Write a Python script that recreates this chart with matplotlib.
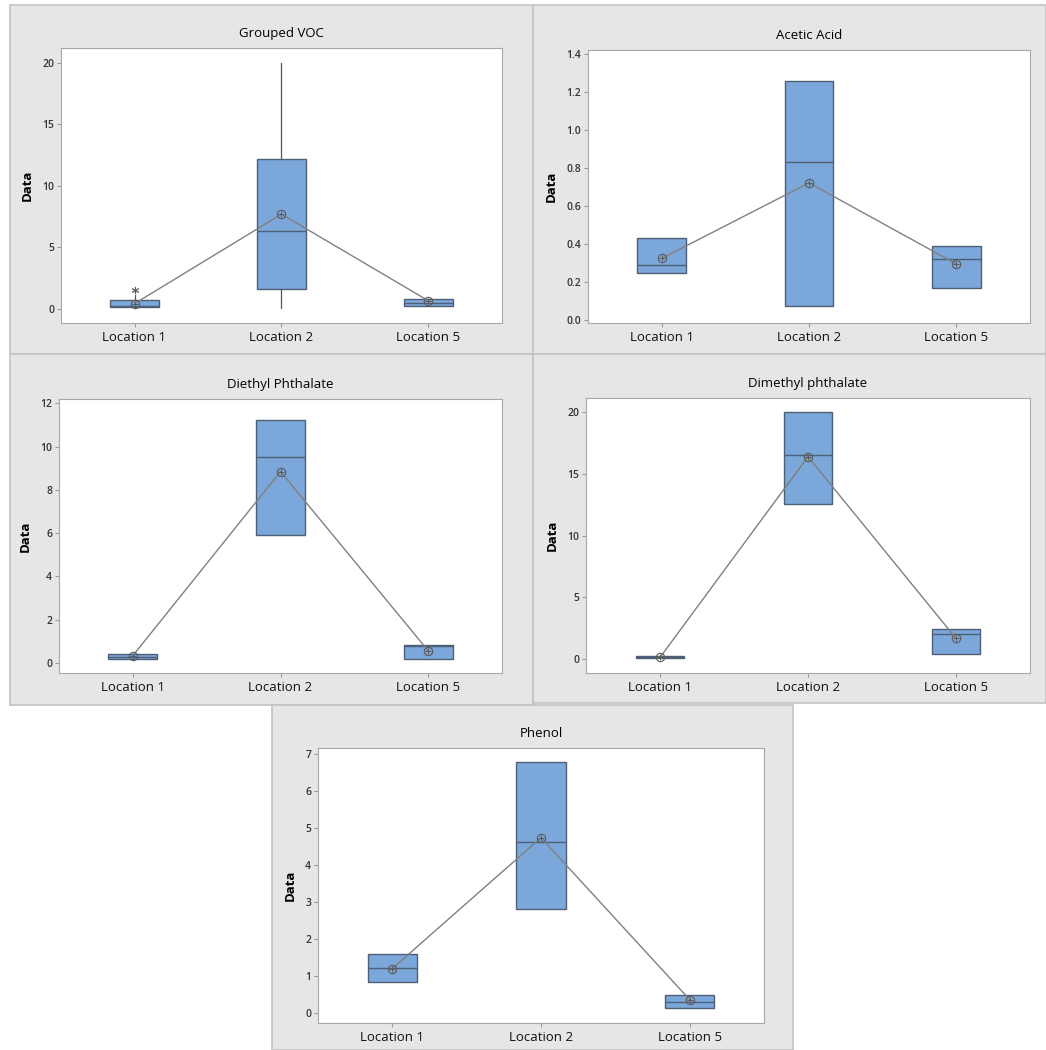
import numpy as np
import matplotlib.pyplot as plt
from matplotlib.patches import Rectangle

plt.rcParams['font.family'] = ['Open Sans', 'DejaVu Sans']

locations = ['Location 1', 'Location 2', 'Location 5']

# per-chemical box statistics: q1, median, q3, whisker low, whisker high, mean
titles = ['Grouped VOC', 'Acetic Acid', 'Diethyl Phthalate', 'Dimethyl phthalate', 'Phenol']

voc_q1 = [0.16, 1.65, 0.22]
voc_med = [0.28, 6.3, 0.5]
voc_q3 = [0.75, 12.2, 0.85]
voc_lo = [0.1, 0.05, 0.22]
voc_hi = [1.17, 20.0, 0.85]
voc_mean = [0.43, 7.7, 0.66]
voc_fliers = [[1.57], [], []]

acetic_q1 = [0.248, 0.072, 0.166]
acetic_med = [0.29, 0.83, 0.318]
acetic_q3 = [0.429, 1.257, 0.389]
acetic_mean = [0.322, 0.72, 0.293]

diethyl_q1 = [0.2, 5.9, 0.2]
diethyl_med = [0.3, 9.5, 0.77]
diethyl_q3 = [0.43, 11.25, 0.84]
diethyl_mean = [0.34, 8.85, 0.57]

dimethyl_q1 = [0.05, 12.55, 0.38]
dimethyl_med = [0.12, 16.55, 2.0]
dimethyl_q3 = [0.2, 20.0, 2.4]
dimethyl_mean = [0.1, 16.4, 1.65]

phenol_q1 = [0.83, 2.8, 0.135]
phenol_med = [1.21, 4.62, 0.3]
phenol_q3 = [1.6, 6.78, 0.476]
phenol_mean = [1.2, 4.73, 0.36]

W, H = 1046, 1050
fig = plt.figure(figsize=(W / 100, H / 100), dpi=100)


def px_rect(l, t, r, b):
    return [l / W, 1 - b / H, (r - l) / W, (b - t) / H]


# grey panel backgrounds
for l, t, r, b in [(10, 5, 533, 354), (533, 5, 1046, 354), (10, 354, 533, 705),
                   (533, 354, 1046, 703), (272, 705, 793, 1050)]:
    fig.add_artist(Rectangle((l / W, 1 - b / H), (r - l) / W, (b - t) / H,
                             transform=fig.transFigure, facecolor='#e6e6e6',
                             edgecolor='#c4c4c4', linewidth=1.2, zorder=0))

panels = [
    (voc_q1, voc_med, voc_q3, voc_lo, voc_hi, voc_mean, voc_fliers,
     (61, 48, 502, 323), (-1.14, 21.2), [0, 5, 10, 15, 20], '%d'),
    (acetic_q1, acetic_med, acetic_q3, acetic_q1, acetic_q3, acetic_mean, None,
     (588, 50, 1030, 323), (-0.018, 1.42), np.arange(0, 1.41, 0.2), '%.1f'),
    (diethyl_q1, diethyl_med, diethyl_q3, diethyl_q1, diethyl_q3, diethyl_mean, None,
     (59, 399, 502, 673), (-0.46, 12.2), [0, 2, 4, 6, 8, 10, 12], '%d'),
    (dimethyl_q1, dimethyl_med, dimethyl_q3, dimethyl_q1, dimethyl_q3, dimethyl_mean, None,
     (586, 398, 1030, 673), (-1.16, 21.16), [0, 5, 10, 15, 20], '%d'),
    (phenol_q1, phenol_med, phenol_q3, phenol_q1, phenol_q3, phenol_mean, None,
     (318, 748, 764, 1023), (-0.27, 7.15), [0, 1, 2, 3, 4, 5, 6, 7], '%d'),
]

box_color = '#7ba7da'
edge_color = '#4f5f75'
pos = np.arange(1, len(locations) + 1)

for title, (q1, med, q3, lo, hi, mean, fliers, rect, ylim, yticks, fmt) in zip(titles, panels):
    ax = fig.add_axes(px_rect(*rect))
    stats = []
    for i in range(len(locations)):
        stats.append({'q1': q1[i], 'med': med[i], 'q3': q3[i],
                      'whislo': lo[i], 'whishi': hi[i],
                      'fliers': fliers[i] if fliers else []})
    ax.bxp(stats, positions=pos, widths=0.33, patch_artist=True, showcaps=False,
           boxprops=dict(facecolor=box_color, edgecolor=edge_color, linewidth=1.0),
           medianprops=dict(color=edge_color, linewidth=1.0),
           whiskerprops=dict(color='#555555', linewidth=0.9),
           flierprops=dict(marker='$*$', markersize=5, markerfacecolor='#555555',
                           markeredgecolor='#555555', markeredgewidth=0.3,
                           linestyle='none'))
    ax.plot(pos, mean, color='#808080', linewidth=1.0, zorder=3)
    ax.plot(pos, mean, linestyle='none', marker='o', markersize=6, fillstyle='none',
            markeredgecolor='#5a5a5a', markeredgewidth=0.8, zorder=4)
    ax.plot(pos, mean, linestyle='none', marker='+', markersize=5,
            markeredgecolor='#5a5a5a', markeredgewidth=0.7, zorder=4)

    ax.set_xlim(0.5, 3.5)
    ax.set_ylim(*ylim)
    ax.set_yticks(yticks)
    ax.set_yticklabels([fmt % v for v in yticks], fontweight='semibold')
    ax.set_xticks(pos)
    ax.set_xticklabels(locations)
    ax.tick_params(axis='y', labelsize=7.5, length=3, color='#999999', pad=2,
                   labelcolor='#333333')
    ax.tick_params(axis='x', labelsize=9.5, length=3, color='#999999', pad=3,
                   labelcolor='#111111')
    for s in ax.spines.values():
        s.set_color('#a8a8a8')
    ax.set_ylabel('Data', fontsize=9.5, fontweight='bold', labelpad=6)
    ax.set_title(title, fontsize=9.5, pad=8)

fig.savefig('out.png', dpi=100)
